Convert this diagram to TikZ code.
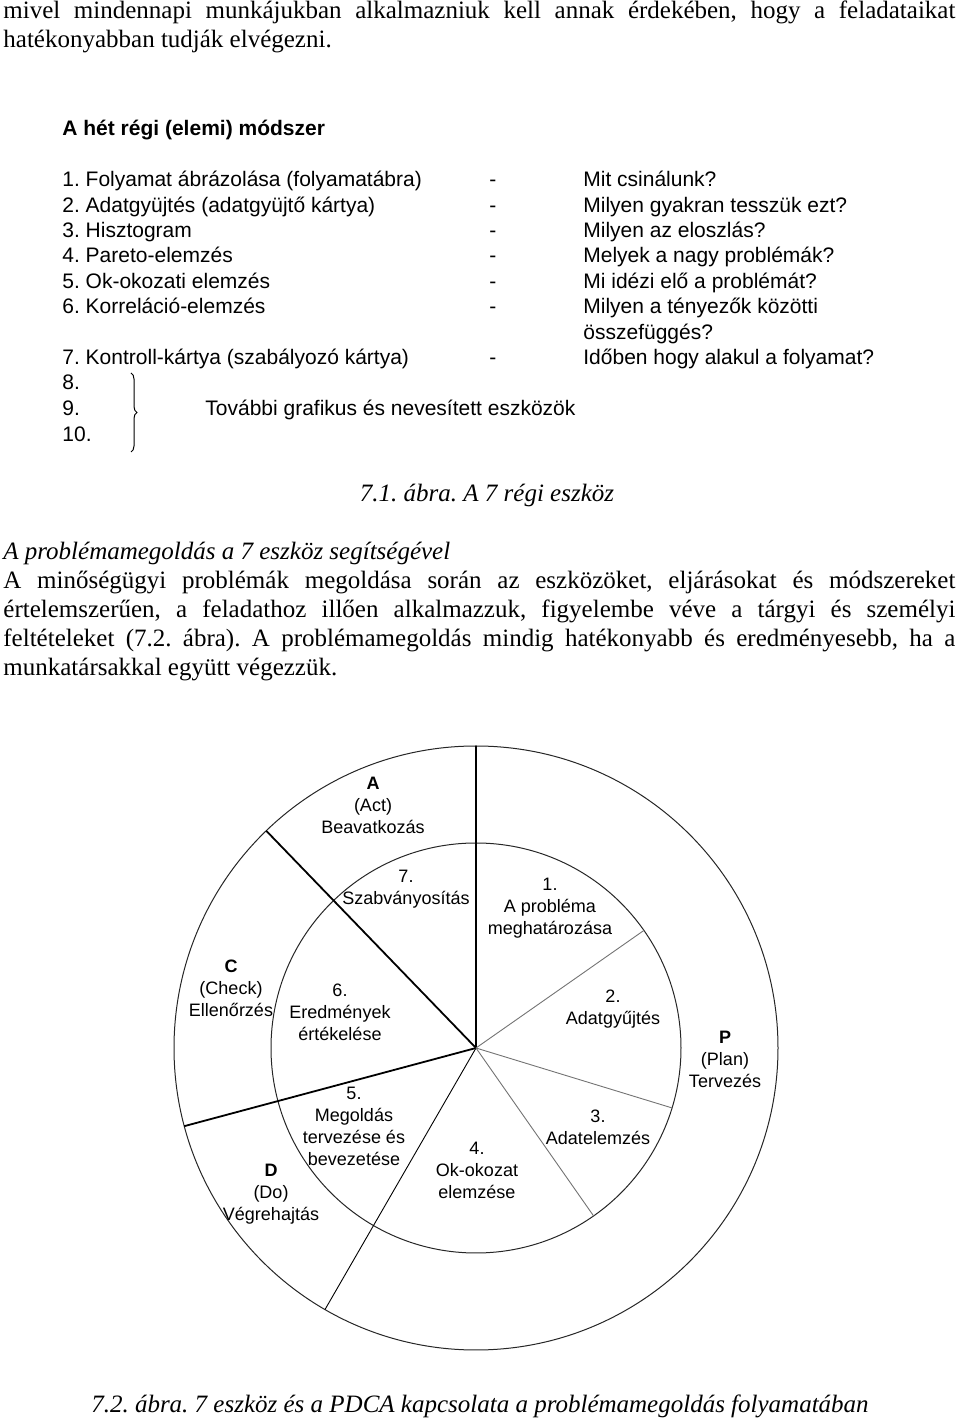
\documentclass[tikz,border=0pt]{standalone}
\usepackage{fontspec}
\setmainfont{Liberation Serif}
\setsansfont{Liberation Sans}
\frenchspacing
\usetikzlibrary{calc,decorations.pathreplacing}

\tikzset{
  body/.style={anchor=base west, inner sep=0pt, font=\fontsize{12.5}{15}\selectfont},
  capt/.style={anchor=base, inner sep=0pt, font=\fontsize{12.5}{15}\selectfont\itshape},
  item/.style={anchor=base west, inner sep=0pt, font=\fontsize{10.5}{12.75}\selectfont\sffamily},
  lbl/.style={align=center, inner sep=0pt, font=\fontsize{9}{11}\selectfont\sffamily},
  ring/.style={line width=0.5pt, black!85},
  bold spoke/.style={line width=0.9pt},
  thin spoke/.style={line width=0.45pt, black!55},
}

\begin{document}
\begin{tikzpicture}[x=0.5pt, y=0.5pt]
        % --- SETTINGS ---
        \def\Rout{302}     % outer ring (PDCA)
        \def\Rin{205}      % inner ring (7 steps)
        \def\W{476pt}      % width of a justified line
        \useasboundingbox (0,0) rectangle (960,1420);

        % --- TEXT ABOVE ---
        \node[body] (top1) at (3,1401) {\makebox[\W][s]{mivel mindennapi munkájukban alkalmazniuk kell annak érdekében, hogy a feladataikat}};
        \node[body] (top2) at (3,1372) {hatékonyabban tudják elvégezni.};

        % --- 7.1: THE SEVEN OLD TOOLS ---
        \node[item, font=\fontsize{10.5}{12.75}\selectfont\sffamily\bfseries] (head) at (62,1284) {A hét régi (elemi) módszer};
        \foreach \y/\txt/\q [count=\i] in {
            1233/Folyamat ábrázolása (folyamatábra)/Mit csinálunk?,
            1207/Adatgyüjtés (adatgyüjtő kártya)/Milyen gyakran tesszük ezt?,
            1182/Hisztogram/Milyen az eloszlás?,
            1157/Pareto-elemzés/Melyek a nagy problémák?,
            1131/Ok-okozati elemzés/Mi idézi elő a problémát?,
            1106/Korreláció-elemzés/Milyen a tényezők közötti,
            1055/Kontroll-kártya (szabályozó kártya)/Időben hogy alakul a folyamat?}
        {
            \node[item] (item\i) at (62,\y) {\i. \txt};
            \node[item] (dash\i) at (489,\y) {-};
            \node[item] (q\i) at (583,\y) {\q};
        }
        \node[item] (q6b) at (583,1080) {összefüggés?};
        \foreach \y/\i in {1030/8, 1004/9, 978/10}
            \node[item] (item\i) at (62,\y) {\i.};
        \draw[line width=0.5pt, decorate, decoration={brace, amplitude=3pt}] (131,1047) -- (131,968);
        \node[item] (more) at (205,1004) {További grafikus és nevesített eszközök};

        \node[capt] (cap1) at (487,918) {7.1. ábra. A 7 régi eszköz};

        % --- BODY TEXT ---
        \node[body, font=\fontsize{12.5}{15}\selectfont\itshape] (sec) at (3,860) {A problémamegoldás a 7 eszköz segítségével};
        \node[body] (par1) at (3,831) {\makebox[\W][s]{A minőségügyi problémák megoldása során az eszközöket, eljárásokat és módszereket}};
        \node[body] (par2) at (3,802) {\makebox[\W][s]{értelemszerűen, a feladathoz illően alkalmazzuk, figyelembe véve a tárgyi és személyi}};
        \node[body] (par3) at (3,773) {\makebox[\W][s]{feltételeket (7.2. ábra). A problémamegoldás mindig hatékonyabb és eredményesebb, ha a}};
        \node[body] (par4) at (3,744) {munkatársakkal együtt végezzük.};

        % --- 7.2: PDCA WHEEL ---
        \coordinate (c) at (476,372);
        \draw[ring] (c) circle[radius=\Rout];
        \draw[ring] (c) circle[radius=\Rin];
        % PDCA borders
        \foreach \a in {90,134,195}
            \draw[bold spoke] (c) -- ($(c)+(\a:\Rout)$);
        \draw[thin spoke, black] (c) -- ($(c)+(240:\Rout)$);
        % borders of the 7 steps
        \foreach \a in {35,-17,-55}
            \draw[thin spoke] (c) -- ($(c)+(\a:\Rin)$);

        \node[lbl] (act) at (373,615) {\textbf{A}\\(Act)\\Beavatkozás};
        \node[lbl] (check) at (231,432) {\textbf{C}\\(Check)\\Ellenőrzés};
        \node[lbl] (do) at (271,226) {\textbf{D}\\(Do)\\Végrehajtás};
        \node[lbl] (plan) at (725,361) {\textbf{P}\\(Plan)\\Tervezés};

        \node[lbl] (s1) at (550,512) {1.\\A probléma\\meghatározása};
        \node[lbl] (s2) at (613,411) {2.\\Adatgyűjtés};
        \node[lbl] (s3) at (598,293) {3.\\Adatelemzés};
        \node[lbl] (s4) at (477,250) {4.\\Ok-okozat\\elemzése};
        \node[lbl] (s5) at (354,294) {5.\\Megoldás\\tervezése és\\bevezetése};
        \node[lbl] (s6) at (340,408) {6.\\Eredmények\\értékelése};
        \node[lbl] (s7) at (406,531) {7.\\Szabványosítás};

        \node[capt] (cap2) at (480,8) {7.2. ábra. 7 eszköz és a PDCA kapcsolata a problémamegoldás folyamatában};
\end{tikzpicture}
\end{document}
